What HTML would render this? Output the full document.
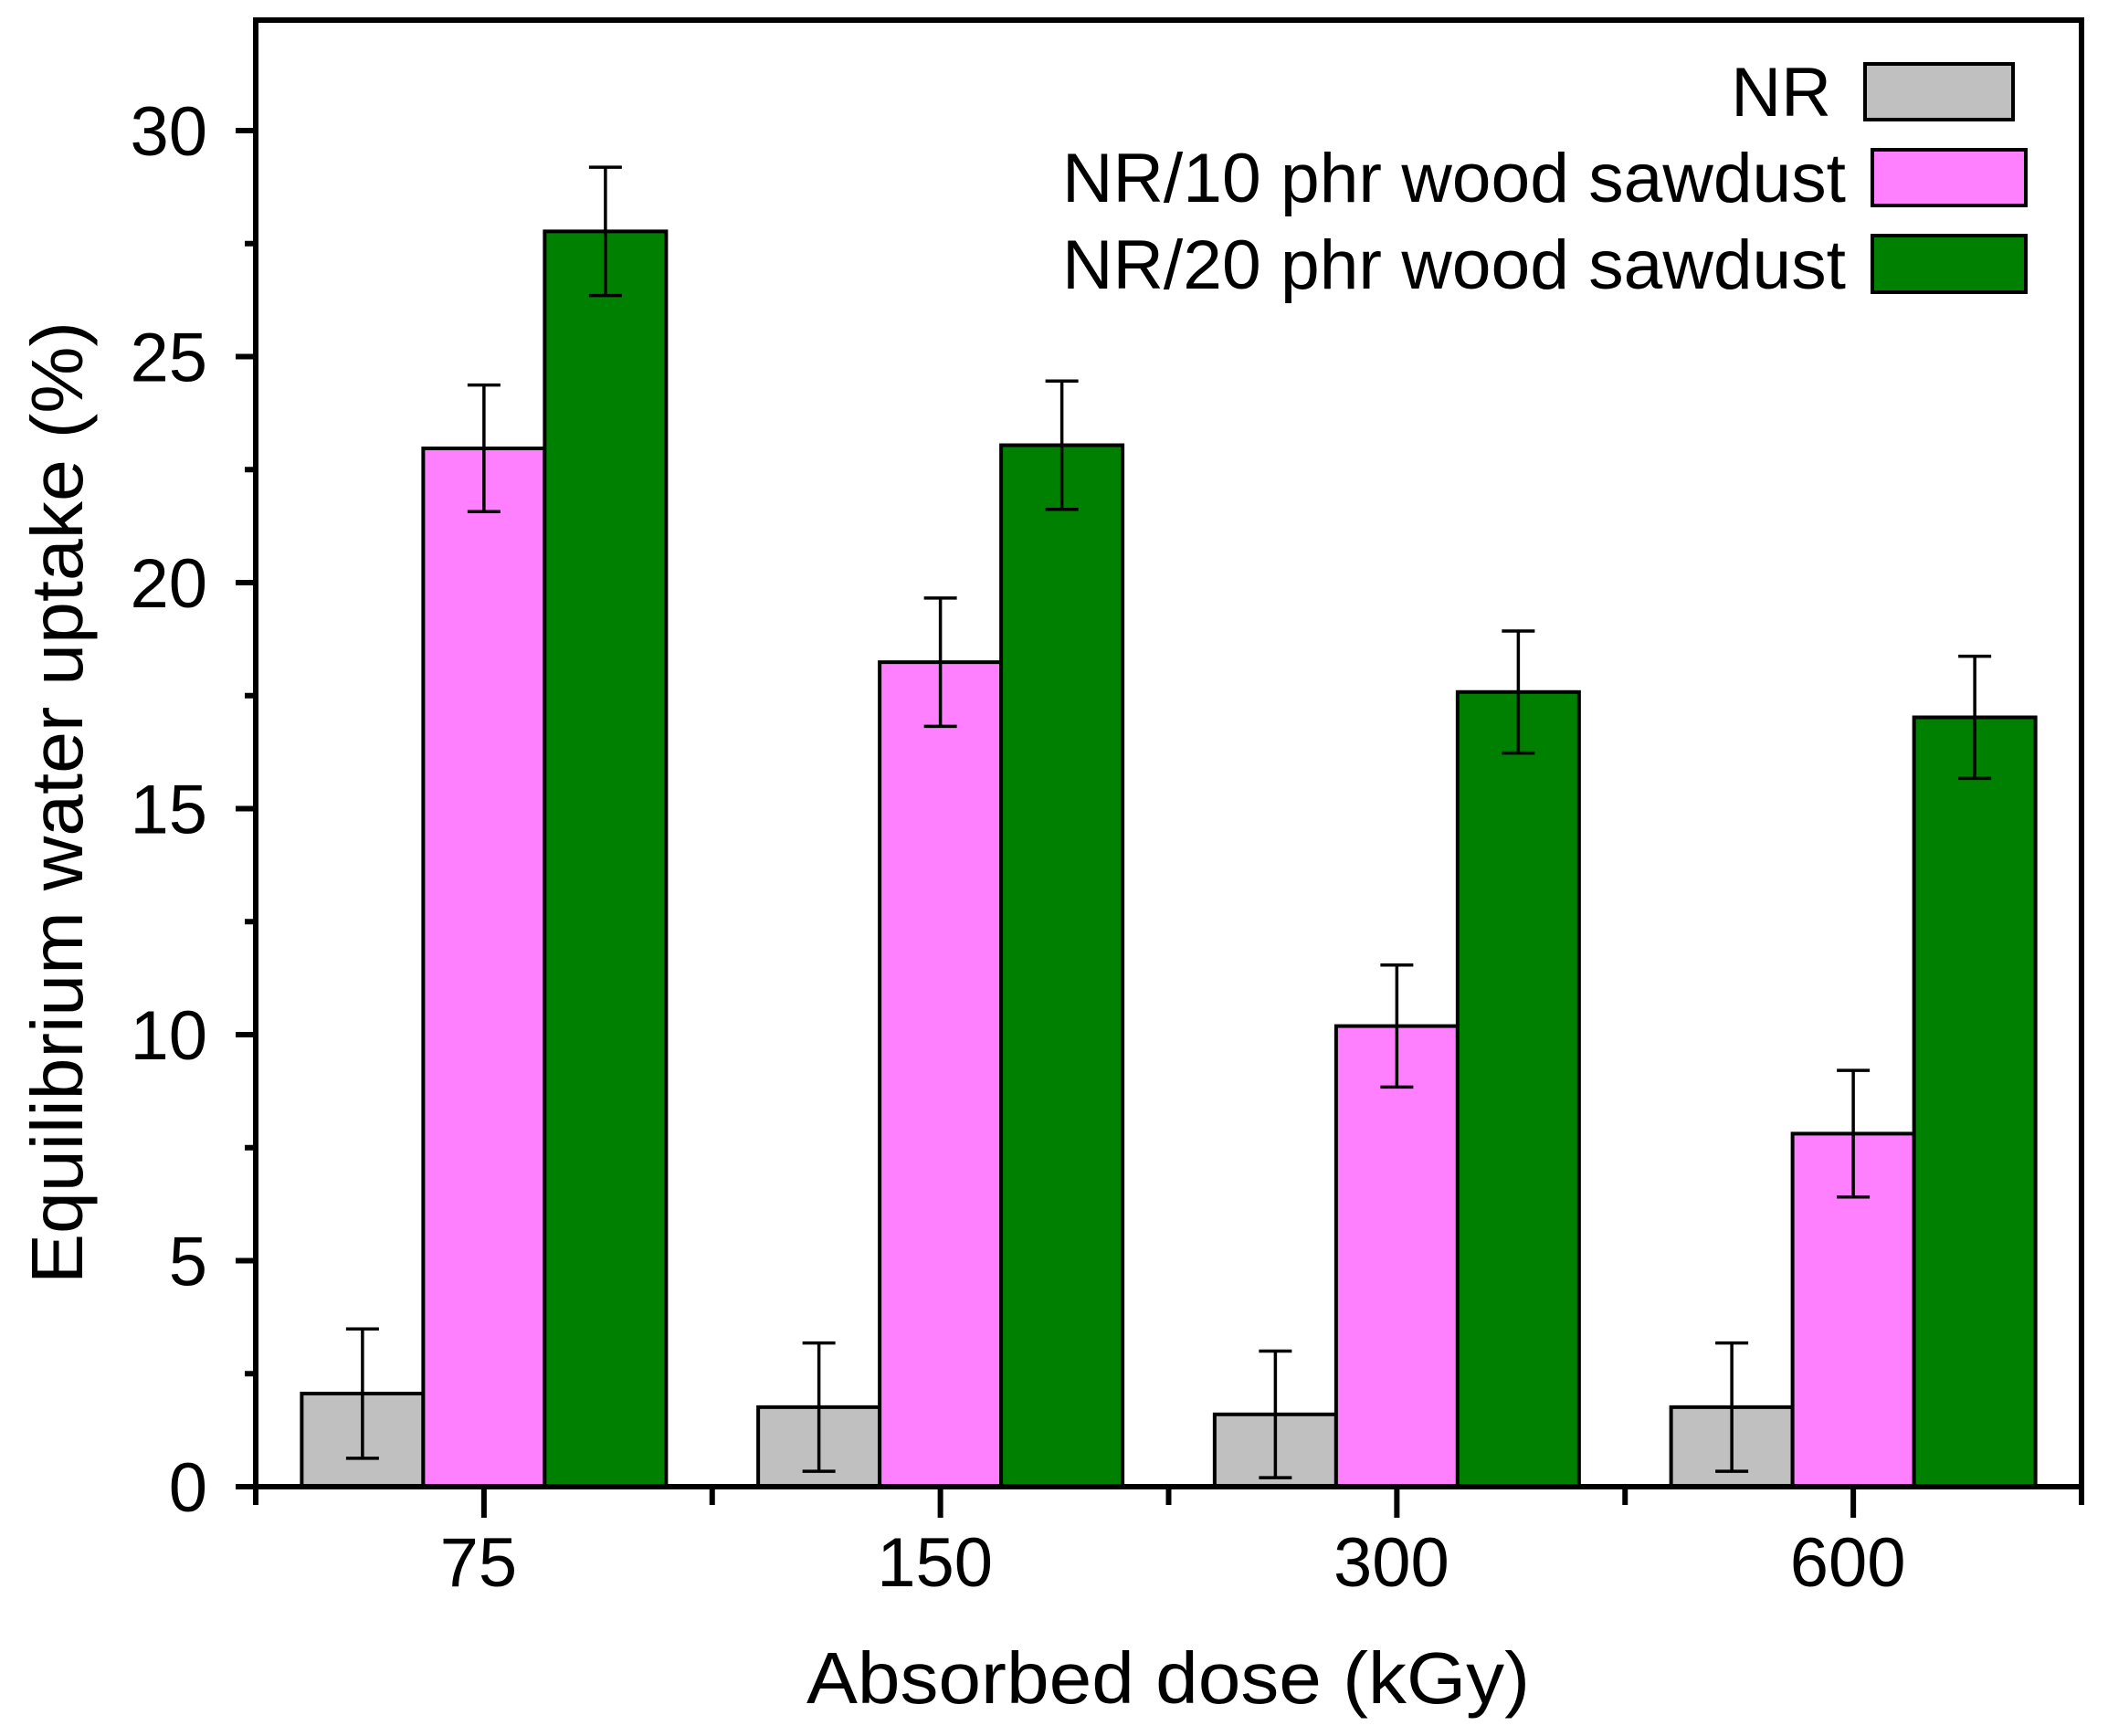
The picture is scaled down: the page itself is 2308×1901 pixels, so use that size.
<!DOCTYPE html>
<html><head><meta charset="utf-8"><style>
html,body{margin:0;padding:0;background:#fff;}
svg{display:block;font-family:"Liberation Sans",Arial,sans-serif;}
</style></head><body>
<svg id="chart" width="2308" height="1901" viewBox="0 0 2308 1901" xmlns="http://www.w3.org/2000/svg">
<g id="plot"></g>
</svg>
<script>
const categories = ["75","150","300","600"];
const seriesNames = ["NR","NR/10 phr wood sawdust","NR/20 phr wood sawdust"];
const nrValues = [2.06, 1.76, 1.6, 1.76];
const nr10Values = [22.97, 18.24, 10.19, 7.81];
const nr20Values = [27.77, 23.04, 17.58, 17.02];
const nrErr = [1.43, 1.42, 1.4, 1.42];
const nr10Err = [1.4, 1.42, 1.35, 1.4];
const nr20Err = [1.42, 1.42, 1.35, 1.35];
const yTicks = [0,5,10,15,20,25,30];

const NS="http://www.w3.org/2000/svg";
const svg=document.getElementById('plot');
const L=280,R=2279,T=22,B=1628;
const yMin=0,yMax=(B-T)/49.5;
function y(v){return B-(v-yMin)/(yMax-yMin)*(B-T);}
const slot=(R-L)/categories.length;
function xc(i){return L+slot*(i+0.5);}
const bw=133;
function mk(tag,attrs,parent){const e=document.createElementNS(NS,tag);for(const k in attrs)e.setAttribute(k,attrs[k]);(parent||svg).appendChild(e);return e;}

const series=[nrValues,nr10Values,nr20Values];
const errs=[nrErr,nr10Err,nr20Err];
const fills=["#c0c0c0","#ff80ff","#008000"];
const keys=["nr","nr10","nr20"];
series.forEach((vals,s)=>{
  vals.forEach((v,i)=>{
    const x0=xc(i)+(s-1.5)*bw;
    const r=mk('rect',{x:x0,y:y(v),width:bw,height:B-y(v),fill:fills[s],stroke:'#000','stroke-width':4});
    
    
  });
});
series.forEach((vals,s)=>{
  vals.forEach((v,i)=>{
    const cx=xc(i)+(s-1)*bw;
    const e=errs[s][i];
    const g=mk('g',{stroke:'#000','stroke-width':3.5});
    
    
    mk('line',{x1:cx,x2:cx,y1:y(v+e),y2:y(v-e)},g);
    mk('line',{x1:cx-18,x2:cx+18,y1:y(v+e),y2:y(v+e)},g);
    mk('line',{x1:cx-18,x2:cx+18,y1:y(v-e),y2:y(v-e)},g);
  });
});
const fr=mk('rect',{x:L,y:T,width:R-L,height:B-T,fill:'none',stroke:'#000','stroke-width':6});


for(let v=0;v<=32;v+=2.5){
  const major=(v%5===0);
  mk('line',{x1:L-(major?22:12),x2:L,y1:y(v),y2:y(v),stroke:'#000','stroke-width':6});
}
yTicks.forEach(v=>{
  const t=mk('text',{x:227,y:y(v)+27,'text-anchor':'end','font-size':76});
  t.textContent=v;
  
  
});
categories.forEach((c,i)=>{
  mk('line',{x1:xc(i),x2:xc(i),y1:B,y2:B+34,stroke:'#000','stroke-width':6});
  const t=mk('text',{x:xc(i)-6,y:1737,'text-anchor':'middle','font-size':76});
  t.textContent=c;
  
  
});
for(let i=0;i<=categories.length;i++){
  mk('line',{x1:L+slot*i,x2:L+slot*i,y1:B,y2:B+20,stroke:'#000','stroke-width':6});
}
const xt=mk('text',{x:1279,y:1865,'text-anchor':'middle','font-size':80,textLength:792,lengthAdjust:'spacingAndGlyphs'});
xt.textContent='Absorbed dose (kGy)';


const yt=mk('text',{x:0,y:0,'text-anchor':'middle','font-size':80,textLength:1054,lengthAdjust:'spacingAndGlyphs',transform:'translate(90,879) rotate(-90)'});
yt.textContent='Equilibrium water uptake (%)';


const legRows=[{ty:100,bx:2042,by:70,bw:162,bh:61},{ty:194,bx:2050,by:164,bw:168,bh:61},{ty:289,bx:2050,by:258,bw:168,bh:62}];
const legRight=[2005,2021,2021];
seriesNames.forEach((n,s)=>{
  const g=mk('g',{});
  
  
  const r=legRows[s];
  mk('rect',{x:r.bx,y:r.by,width:r.bw,height:r.bh,fill:fills[s],stroke:'#000','stroke-width':4},g);
  const t=mk('text',{x:legRight[s],y:r.ty+27,'text-anchor':'end','font-size':76},g);
  if(s>0){t.setAttribute('textLength',858);t.setAttribute('lengthAdjust','spacingAndGlyphs');}
  t.textContent=n;
});
</script>
</body></html>
